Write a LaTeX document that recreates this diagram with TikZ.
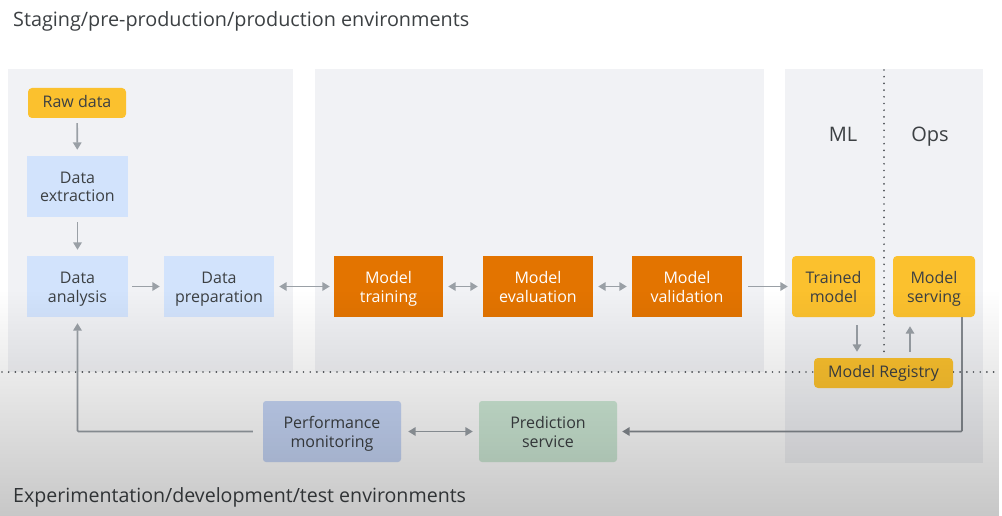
\documentclass[tikz,border=0pt]{standalone}
\usepackage{fontspec}
\setmainfont{Open Sans}
\usetikzlibrary{arrows.meta,fadings}
\definecolor{txt}{HTML}{3C4043}
\definecolor{panel}{HTML}{F1F2F5}
\definecolor{ylw}{HTML}{FBC12E}
\definecolor{blu}{HTML}{D2E3FC}
\definecolor{org}{HTML}{E37400}
\definecolor{perfc}{HTML}{C6D6F6}
\definecolor{predc}{HTML}{CEE9D6}
\definecolor{arrc}{HTML}{9AA0A6}
\definecolor{linec}{HTML}{858A90}
\definecolor{dotc}{HTML}{4F5358}
\newcommand\topstrut{\rule{0pt}{16.5pt}}
\newcommand\botstrut{\rule[-4.5pt]{0pt}{4.5pt}}
\newcommand\onestrut{\rule[-4pt]{0pt}{16pt}}
\newcommand\twoline[2]{\topstrut#1\\#2\botstrut}
\tikzfading[name=myfade, top color=transparent!100, bottom color=transparent!0]
\begin{document}
\begin{tikzpicture}[x=1pt,y=-1pt,
  box/.style={minimum height=61pt, inner sep=0pt, align=center, text=txt,
    font=\fontsize{16}{19}\selectfont},
  bluebox/.style={box, fill=blu},
  orgbox/.style={box, fill=org, text=white},
  ylwbox/.style={box, fill=ylw, rounded corners=4pt},
  arr/.style={draw=arrc, line width=1.7pt, -{Triangle[length=7.5pt,width=8.5pt]}},
  darr/.style={draw=arrc, line width=1.7pt, {Triangle[length=7.5pt,width=8.5pt]}-{Triangle[length=7.5pt,width=8.5pt]}},
  dotline/.style={draw=dotc, line width=1.9pt, line cap=round, dash pattern=on 0pt off 6.7pt},
  lbl/.style={text=txt, inner sep=0pt}
]
\useasboundingbox (0,0) rectangle (1002,516);
\fill[white] (0,0) rectangle (1002,516);
% panels
\fill[panel] (8,69) rectangle (293,372);
\fill[panel] (315,69) rectangle (764,372);
\fill[panel] (785,69) rectangle (983,463);
% dotted separators
\coordinate (vtop) at (884,70);
\coordinate (vbot) at (884,352);
\coordinate (hl) at (2,372);
\coordinate (hr) at (1000,372);
\draw[dotline] (vtop) -- (vbot);
\draw[dotline] (hl) -- (hr);
% titles
\node[lbl, anchor=base west, font=\fontsize{19.8}{22}\selectfont] (ttop) at (13,27) {Staging/pre-production/production environments};
\node[lbl, anchor=base west, font=\fontsize{19.6}{22}\selectfont] (tbot) at (13,502) {Experimentation/development/test environments};
\node[lbl, anchor=base, font=\fontsize{20}{24}\selectfont] (ml) at (843,142) {ML};
\node[lbl, anchor=base, font=\fontsize{20}{24}\selectfont] (ops) at (930,142) {Ops};
% boxes
\node[ylwbox, minimum width=98pt, minimum height=30pt] (raw) at (77,103) {\onestrut Raw data};
\node[bluebox, minimum width=101pt] (ext) at (77.5,186.5) {\twoline{Data}{extraction}};
\node[bluebox, minimum width=101pt] (ana) at (77.5,286.5) {\twoline{Data}{analysis}};
\node[bluebox, minimum width=110pt] (prep) at (219,286.5) {\twoline{Data}{preparation}};
\node[orgbox, minimum width=109pt] (train) at (388.5,286.5) {\twoline{Model}{training}};
\node[orgbox, minimum width=110pt] (eval) at (538,286.5) {\twoline{Model}{evaluation}};
\node[orgbox, minimum width=110pt] (val) at (687,286.5) {\twoline{Model}{validation}};
\node[ylwbox, minimum width=83pt] (trained) at (833.5,286.5) {\twoline{Trained}{model}};
\node[ylwbox, minimum width=82pt] (serving) at (934,286.5) {\twoline{Model}{serving}};
\node[ylwbox, minimum width=139pt, minimum height=30pt] (reg) at (883.5,373) {\onestrut Model Registry};
\node[box, fill=perfc, rounded corners=3pt, minimum width=138pt] (perf) at (332,431.5) {\twoline{Performance}{monitoring}};
\node[box, fill=predc, rounded corners=3pt, minimum width=138pt] (pred) at (548,431.5) {\twoline{Prediction}{service}};
% connectors
\draw[arr, shorten <=5pt, shorten >=6pt] (raw) -- (ext);
\draw[arr, shorten <=5pt, shorten >=6pt] (ext) -- (ana);
\draw[arr, shorten <=4pt, shorten >=4pt] (ana) -- (prep);
\draw[darr, shorten <=5pt, shorten >=4pt] (prep) -- (train);
\draw[darr, shorten <=5pt, shorten >=5pt] (train) -- (eval);
\draw[darr, shorten <=5pt, shorten >=5pt] (eval) -- (val);
\draw[arr, shorten <=6pt, shorten >=4pt] (val) -- (trained);
\draw[arr, shorten <=8pt, shorten >=6pt] ([xshift=23.5pt]trained.south) -- ([xshift=23.5pt]trained.south |- reg.north);
\draw[arr, shorten <=6pt, shorten >=9pt] ([xshift=-24pt]serving.south |- reg.north) -- ([xshift=-24pt]serving.south);
\draw[arr, draw=linec, rounded corners=1pt, shorten >=5pt] ([xshift=28pt]serving.south) |- (pred.east);
\draw[darr, shorten <=7pt, shorten >=6pt] (perf) -- (pred);
\draw[arr, rounded corners=1pt, shorten <=10pt, shorten >=6pt] (perf.west) -| (ana.south);
% vignette overlay
\fill[black, opacity=0.22, path fading=myfade] (0,290) rectangle (1002,516);
\end{tikzpicture}
\end{document}
